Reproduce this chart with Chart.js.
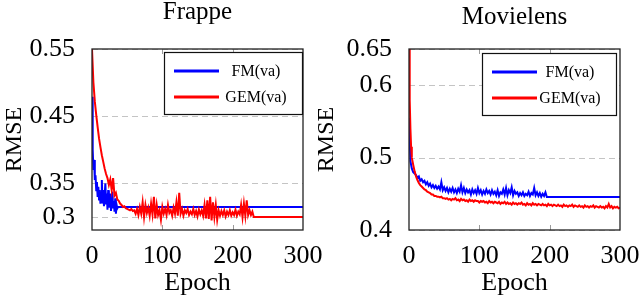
<!DOCTYPE html>
<html><head><meta charset="utf-8">
<script src="https://cdn.jsdelivr.net/npm/chart.js@4.4.0/dist/chart.umd.min.js"></script>
<style>
html,body{margin:0;padding:0;background:#fff;overflow:hidden;width:640px;height:299px;position:relative}
#w1{position:absolute;left:0;top:0;width:350px;height:299px}
#w2{position:absolute;left:300px;top:0;width:360px;height:299px}
canvas{display:block}
</style></head><body>
<div id="w1"><canvas id="c1" width="350" height="299" style="width:350px;height:299px"></canvas></div>
<div id="w2"><canvas id="c2" width="360" height="299" style="width:360px;height:299px"></canvas></div>
<script>
// ---------- data ----------
const seriesNames = ['FM(va)', 'GEM(va)'];
const xTickValues = [0, 100, 200, 300];
const xTickLabels = ['0', '100', '200', '300'];

const frappeYTickValues = [0.3, 0.35, 0.45, 0.55];
const frappeYTickLabels = ['0.3', '0.35', '0.45', '0.55'];
const movieYTickValues = [0.4, 0.5, 0.6, 0.65];
const movieYTickLabels = ['0.4', '0.5', '0.6', '0.65'];

const frappeFmEpochs = [0,1,2,3,4,5,6,7,8,9,10,11,12,13,14,15,16,17,18,19,20,21,22,23,24,25,26,27,28,29,30,31,32,33,34,35,36,37,300];
const frappeFmRmse = [0.479,0.400,0.370,0.385,0.355,0.362,0.340,0.352,0.330,0.345,0.326,0.340,0.320,0.335,0.355,0.320,0.340,0.316,0.332,0.350,0.320,0.335,0.311,0.340,0.328,0.314,0.335,0.309,0.325,0.338,0.314,0.324,0.308,0.328,0.305,0.318,0.313,0.315,0.315];

const frappeGemEpochs = [0,2,4,6,8,10,12,14,16,18,20,22,24,26,28,30,32,34,36,38,40,42,44,46,48,50,52,54,56,58,60,
62,64,66,68,70,72,74,76,78,80,82,84,86,88,90,92,94,96,98,100,102,104,106,108,110,112,114,116,118,120,
122,124,126,128,130,132,134,136,138,140,142,144,146,148,150,152,154,156,158,160,162,164,166,168,170,172,174,176,178,180,
182,184,186,188,190,192,194,196,198,200,202,204,206,208,210,212,214,216,218,220,222,224,226,228,230,300];
const frappeGemRmse = [0.550,0.500,0.472,0.452,0.434,0.417,0.404,0.392,0.382,0.372,0.364,0.358,0.348,0.356,0.340,0.358,0.332,0.336,0.326,0.324,0.320,0.318,0.315,0.316,0.313,0.312,0.311,0.310,0.312,0.309,0.310,
0.305,0.312,0.303,0.315,0.305,0.322,0.300,0.318,0.306,0.314,
0.302,0.320,0.304,0.330,0.298,0.318,0.303,0.310,0.296,0.315,
0.305,0.312,0.303,0.318,0.306,0.310,0.302,0.314,0.305,0.322,
0.302,0.336,0.305,0.312,0.302,0.310,0.306,0.312,0.303,0.308,
0.304,0.312,0.303,0.309,0.301,0.311,0.304,0.310,0.302,0.318,
0.298,0.325,0.297,0.330,0.295,0.322,0.300,0.318,0.296,0.310,
0.302,0.309,0.303,0.310,0.301,0.308,0.303,0.310,0.302,0.307,
0.303,0.311,0.302,0.308,0.304,0.318,0.300,0.320,0.302,0.325,
0.303,0.310,0.303,0.308,0.300,0.300];

const movieFmEpochs = [0,2,4,6,8,10,12,14,16,18,20,22,24,26,28,30,32,34,36,38,40,42,44,46,48,50,52,54,56,58,
60,62,64,66,68,70,72,74,76,78,80,82,84,86,88,90,92,94,96,98,100,102,104,106,108,110,112,114,116,118,
120,122,124,126,128,130,132,134,136,138,140,142,144,146,148,150,152,154,156,158,160,162,164,166,168,170,172,174,176,178,
180,182,184,186,188,190,192,194,196,300];
const movieFmRmse = [0.555,0.495,0.485,0.480,0.478,0.476,0.472,0.474,0.468,0.470,
0.466,0.468,0.463,0.466,0.461,0.464,0.459,0.462,0.458,0.461,
0.457,0.460,0.456,0.466,0.455,0.459,0.454,0.458,0.452,0.457,
0.453,0.458,0.452,0.456,0.451,0.457,0.453,0.462,0.452,0.458,
0.451,0.456,0.452,0.455,0.449,0.456,0.451,0.455,0.450,0.458,
0.451,0.455,0.449,0.454,0.450,0.456,0.451,0.454,0.449,0.455,
0.450,0.453,0.448,0.455,0.447,0.452,0.450,0.456,0.449,0.458,
0.448,0.455,0.451,0.459,0.448,0.454,0.450,0.452,0.447,0.451,
0.448,0.452,0.447,0.450,0.448,0.453,0.447,0.451,0.449,0.458,
0.448,0.452,0.447,0.451,0.446,0.450,0.447,0.452,0.4456,0.4456];

const movieGemEpochs = [0,1,2,3,4,6,8,10,12,14,16,18,20,22,24,26,28,30,32,34,36,38,40,42,44,46,48,50,
52,54,56,58,60,62,64,66,68,70,72,74,76,78,80,82,84,86,88,90,92,94,96,98,100,102,104,106,108,110,
112,114,116,118,120,122,124,126,128,130,132,134,136,138,140,142,144,146,148,150,152,154,156,158,160,162,164,166,168,170,
172,174,176,178,180,182,184,186,188,190,192,194,196,198,200,202,204,206,208,210,212,214,216,218,220,222,224,226,228,230,
232,234,236,238,240,242,244,246,248,250,252,254,256,258,260,262,264,266,268,270,272,274,276,278,280,282,284,286,288,290,
292,294,296,298,300];
const movieGemRmse = [0.650,0.580,0.540,0.515,0.500,
0.490,0.481,0.474,0.469,0.465,0.462,0.460,0.458,0.456,0.455,0.453,0.452,0.451,0.449,0.449,0.447,0.447,0.446,0.446,0.445,0.446,0.444,0.444,
0.443,0.444,0.442,0.443,0.441,0.443,0.442,0.444,0.441,0.442,
0.440,0.443,0.441,0.442,0.440,0.441,0.439,0.442,0.440,0.441,
0.439,0.441,0.440,0.440,0.438,0.440,0.439,0.440,0.438,0.439,
0.437,0.440,0.438,0.439,0.437,0.439,0.438,0.437,0.439,0.436,
0.438,0.437,0.439,0.436,0.438,0.436,0.437,0.435,0.438,0.436,
0.437,0.435,0.437,0.436,0.438,0.435,0.436,0.434,0.437,0.435,
0.436,0.434,0.437,0.435,0.436,0.434,0.436,0.435,0.434,0.436,
0.434,0.435,0.433,0.436,0.434,0.435,0.433,0.435,0.434,0.433,
0.435,0.433,0.434,0.432,0.435,0.433,0.434,0.432,0.434,0.433,
0.435,0.432,0.434,0.433,0.432,0.434,0.432,0.433,0.431,0.434,
0.432,0.433,0.431,0.433,0.432,0.434,0.431,0.433,0.432,0.431,
0.433,0.431,0.432,0.430,0.433,0.431,0.436,0.431,0.433,0.430,
0.432,0.431,0.432,0.430,0.431];

// ---------- rendering ----------
Chart.defaults.font.family = '"Liberation Serif", "Times New Roman", serif';
Chart.defaults.color = '#000';

function pts(ex, ys) { return ex.map((e, i) => ({ x: e, y: ys[i] })); }

const deco = {
  id: 'deco',
  beforeDatasetsDraw(chart, args, o) {
    const { ctx, chartArea: a, scales: { x, y } } = chart;
    ctx.save();
    ctx.strokeStyle = '#c4c4c4'; ctx.lineWidth = 1; ctx.setLineDash([6, 4]);
    o.yTicks.forEach(v => {
      const py = Math.round(y.getPixelForValue(v)) + 0.5;
      ctx.beginPath(); ctx.moveTo(a.left, py); ctx.lineTo(a.right, py); ctx.stroke();
    });
    ctx.setLineDash([]);
    ctx.strokeStyle = '#9a9a9a';
    o.xTicks.forEach(v => {
      const px = Math.round(x.getPixelForValue(v)) + 0.5;
      if (px <= a.left + 2 || px >= a.right - 2) return;
      ctx.beginPath();
      ctx.moveTo(px, a.bottom); ctx.lineTo(px, a.bottom - 5);
      ctx.moveTo(px, a.top); ctx.lineTo(px, a.top + 5);
      ctx.stroke();
    });
    ctx.restore();
  },
  afterDraw(chart, args, o) {
    const { ctx, chartArea: a } = chart;
    ctx.save();
    ctx.strokeStyle = '#222'; ctx.lineWidth = 1.3;
    ctx.strokeRect(a.left, a.top, a.right - a.left, a.bottom - a.top);
    // title
    ctx.fillStyle = '#000';
    ctx.font = '25px "Liberation Serif", serif';
    ctx.textAlign = 'center'; ctx.textBaseline = 'alphabetic';
    ctx.fillText(o.title, (a.left + a.right) / 2, o.titleY);
    // legend
    const bl = a.right - o.legRight - o.legW, bt = a.top + o.legTop;
    ctx.fillStyle = '#fff';
    ctx.fillRect(bl, bt, o.legW, o.legH);
    ctx.strokeStyle = '#111'; ctx.lineWidth = 1.2;
    ctx.strokeRect(bl + 0.5, bt + 0.5, o.legW, o.legH);
    ctx.font = '16px "Liberation Serif", serif';
    ctx.textBaseline = 'middle';
    const cols = ['#0000ff', '#ff0000'];
    const rows = [19, 45];
    seriesNames.forEach((n, i) => {
      const yy = bt + rows[i];
      ctx.strokeStyle = cols[i]; ctx.lineWidth = 2.8;
      ctx.beginPath(); ctx.moveTo(bl + 10, yy); ctx.lineTo(bl + 55, yy); ctx.stroke();
      ctx.fillStyle = '#000';
      ctx.fillText(n, bl + o.textX, yy + 1);
    });
    ctx.restore();
  }
};

function makeChart(id, cfg) {
  return new Chart(document.getElementById(id), {
    type: 'line',
    data: {
      datasets: [
        { label: seriesNames[0], data: pts(cfg.fmE, cfg.fmY), borderColor: '#0000ff', borderWidth: 2, pointRadius: 0, tension: 0, order: 1 },
        { label: seriesNames[1], data: pts(cfg.gemE, cfg.gemY), borderColor: '#ff0000', borderWidth: 2, pointRadius: 0, tension: 0, order: 0 }
      ]
    },
    options: {
      responsive: false, animation: false, devicePixelRatio: 1,
      layout: { padding: { top: 49, left: cfg.padL, right: cfg.padR, bottom: 0 } },
      plugins: {
        legend: { display: false }, tooltip: { enabled: false },
        deco: { yTicks: cfg.yTicks, xTicks: xTickValues, title: cfg.title, titleY: cfg.titleY,
                legRight: cfg.legRight, legW: cfg.legW, legH: 62, legTop: cfg.legTop, textX: cfg.textX }
      },
      scales: {
        x: {
          type: 'linear', min: 0, max: 300,
          afterBuildTicks: s => { s.ticks = xTickValues.map(v => ({ value: v })); },
          afterFit: s => { s.height = 69; },
          grid: { display: false }, border: { display: false },
          ticks: { font: { size: 26 }, color: '#000', padding: 3, maxRotation: 0, autoSkip: false,
                   callback: (v, i) => xTickLabels[i] },
          title: { display: true, text: 'Epoch', font: { size: 26 }, color: '#000', padding: { top: 0, bottom: 0 } }
        },
        y: {
          min: cfg.yMin, max: cfg.yMax,
          afterBuildTicks: s => { s.ticks = cfg.yTicks.map(v => ({ value: v })); },
          afterFit: s => { s.width = cfg.yW; },
          grid: { display: false }, border: { display: false },
          ticks: { font: { size: 26 }, color: '#000', padding: 9, autoSkip: false,
                   callback: (v, i) => cfg.yLabels[i] },
          title: { display: true, text: 'RMSE', font: { size: 24 }, color: '#000', padding: 0 }
        }
      }
    },
    plugins: [deco]
  });
}

makeChart('c1', {
  fmE: frappeFmEpochs, fmY: frappeFmRmse, gemE: frappeGemEpochs, gemY: frappeGemRmse,
  yTicks: frappeYTickValues, yLabels: frappeYTickLabels, yMin: 0.2807, yMax: 0.55,
  title: 'Frappe', titleY: 19, padL: 0, padR: 47, yW: 92,
  legRight: 1, legW: 138, legTop: 3, textX: 92
});
makeChart('c2', {
  fmE: movieFmEpochs, fmY: movieFmRmse, gemE: movieGemEpochs, gemY: movieGemRmse,
  yTicks: movieYTickValues, yLabels: movieYTickLabels, yMin: 0.4, yMax: 0.65,
  title: 'Movielens', titleY: 24, padL: 12, padR: 40, yW: 97,
  legRight: 4, legW: 134, legTop: 4, textX: 88
});
</script>
</body></html>
